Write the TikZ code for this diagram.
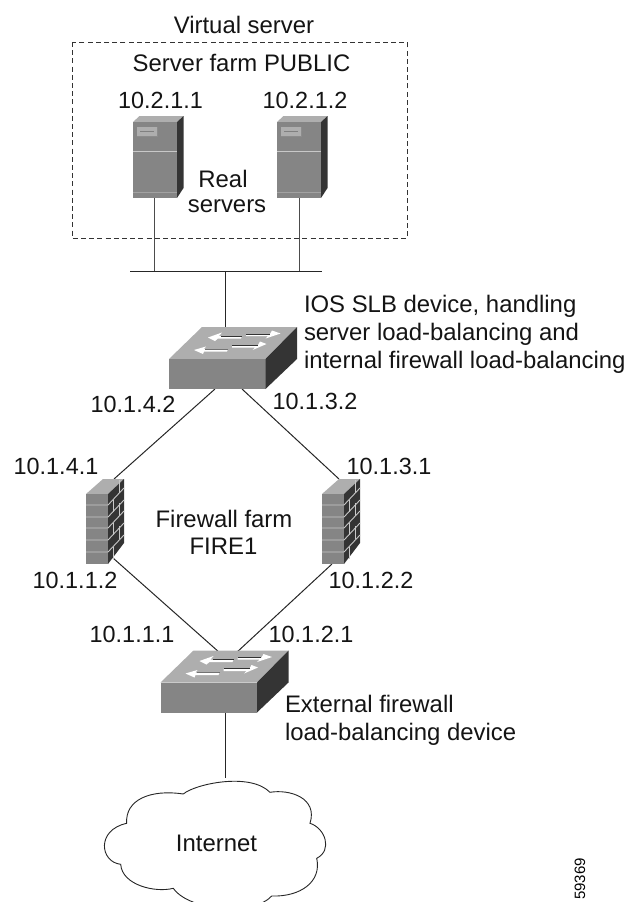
\documentclass[tikz,border=0pt]{standalone}
\usepackage{fontspec}
\setmainfont{Liberation Sans}
\definecolor{dtop}{HTML}{AEAEAE}
\definecolor{dfront}{HTML}{858585}
\definecolor{dside}{HTML}{343434}
\definecolor{dlight}{HTML}{C8C8C8}
\tikzset{
  lab/.style={inner sep=0pt,outer sep=0pt,anchor=base,text=black!92,font=\fontsize{23.4}{27}\selectfont},
  wlab/.style={lab,font=\fontsize{23.9}{27}\selectfont},
  labw/.style={wlab,anchor=base west},
  wire/.style={draw=black!85,line width=1pt},
  devtop/.style={fill=dtop,draw=none},
  devfront/.style={fill=dfront,draw=none},
  devside/.style={fill=dside,draw=none},
  mortar/.style={draw=dlight,line width=0.9pt},
  arrowhead/.style={fill=white,draw=none},
  arrowedge/.style={draw=black!80,line width=0.8pt}
}
\newcommand{\serverdev}[1]{%
  \begin{scope}[shift={(#1,0)}]
    \fill[devtop] (133,122) -- (139.5,116) -- (183.5,116) -- (177,122) -- cycle;
    \fill[devside] (177,122) -- (183.5,116) -- (183.5,188) -- (177,198) -- cycle;
    \fill[devfront] (133,122) rectangle (177,198);
    \fill[fill=dtop] (137,127) rectangle (157,136);
    \draw[draw=black!45,line width=0.5pt] (137,136) -- (157,136) -- (157,127);
    \draw[draw=black!50,line width=0.5pt] (140,131.5) -- (154,131.5);
    \draw[mortar,line width=0.8pt] (133,151) -- (177,151);
    \draw[mortar,draw=black!25!dfront!60!white,line width=0.8pt] (133,192) -- (177,192);
  \end{scope}}
\newcommand{\firewalldev}[1]{%
  \begin{scope}[shift={(#1,0)}]
    \fill[devtop] (86,494) -- (103,479) -- (124,479) -- (108,494) -- cycle;
    \fill[devfront] (86,494) rectangle (108,564);
    \fill[devside] (108,494) -- (124,479) -- (124,543) -- (108,564) -- cycle;
    \foreach \yy in {505,517,528,540,552} {
      \draw[mortar] (86,\yy) -- (108,\yy) -- (124,\yy-17);
    }
    \foreach \yy in {494,517,540} {
      \draw[mortar] (119,\yy-14) -- (119,\yy-1);
    }
    \foreach \yy in {505,528,552} {
      \draw[mortar] (113.5,\yy-5) -- (113.5,\yy+7);
    }
  \end{scope}}
\newcommand{\switchdev}[2]{%
  \begin{scope}[shift={(#1,#2)}]
    \fill[devtop] (169,359) -- (202,327) -- (297,327) -- (265.5,359) -- cycle;
    \fill[devfront] (169,359) rectangle (265.5,389);
    \fill[devside] (265.5,359) -- (297,327) -- (297,359) -- (265.5,389) -- cycle;
    % arrow, top left
    \fill[arrowhead] (208,337.5) -- (222,332.5) -- (219,336) -- (242,336) -- (241,338.5) -- (218,338.5) -- (215,341) -- cycle;
    \draw[arrowedge] (221,336) -- (242,336);
    % arrow, top right
    \fill[arrowhead] (246,334) -- (270,334) -- (272,330.5) -- (280.5,333.5) -- (265.5,338.5) -- (268,336) -- (246,336) -- cycle;
    \draw[arrowedge] (246,334) -- (269.5,334);
    % arrow, lower left
    \fill[arrowhead] (194,350) -- (206,346.5) -- (204,349) -- (228,349) -- (227,351.5) -- (204,351.5) -- (203,354) -- cycle;
    \draw[arrowedge,draw=black!55] (205,349) -- (228,349);
    % arrow, lower right
    \fill[arrowhead] (232,345) -- (258,345) -- (260,341.5) -- (266.5,344) -- (252.5,350) -- (255,347.5) -- (232,347.5) -- cycle;
    \draw[arrowedge] (232,345) -- (258,345);
  \end{scope}}
\begin{document}
\begin{tikzpicture}[x=1pt,y=-1pt]
\useasboundingbox (0,0) rectangle (628,902);
\clip (0,0) rectangle (628,902);

% connection points
\coordinate (srvA) at (154,198);
\coordinate (srvB) at (299,198);
\coordinate (busA) at (154,271);
\coordinate (busB) at (299,271);
\coordinate (busL) at (130,271);
\coordinate (busR) at (322,271);
\coordinate (busM) at (225,271);
\coordinate (swOneTop) at (225,337);
\coordinate (swOneL) at (215,389);
\coordinate (swOneR) at (242,389);
\coordinate (fwAtop) at (114,479);
\coordinate (fwBtop) at (339,479);
\coordinate (fwAbot) at (113,558);
\coordinate (fwBbot) at (332,564);
\coordinate (swTwoL) at (220,653);
\coordinate (swTwoR) at (236,653);
\coordinate (swTwoBot) at (225,712);
\coordinate (cloudTop) at (225,778);

% virtual server frame
\draw[draw=black!80,line width=0.8pt,dash pattern=on 5pt off 3.2pt] (72,42) rectangle (407,238);

% connectors
\draw[wire,draw=black!70] (srvA) -- (busA);
\draw[wire,draw=black!70] (srvB) -- (busB);
\draw[wire] (busL) -- (busR);
\draw[wire] (busM) -- (swOneTop);
\draw[wire] (swOneL) -- (fwAtop);
\draw[wire] (swOneR) -- (fwBtop);
\draw[wire] (fwAbot) -- (swTwoL);
\draw[wire] (fwBbot) -- (swTwoR);
\draw[wire] (swTwoBot) -- (cloudTop);

% devices
\serverdev{0}
\serverdev{144}
\switchdev{0}{0}
\switchdev{-8.5}{323.5}
\firewalldev{0}
\firewalldev{236}

% cloud
\draw[draw=black!85,line width=0.9pt,fill=white]
  (183.3,794) .. controls (195,784) and (250,772) .. (270,792.3)
  .. controls (290,789) and (318,798) .. (310,823.3)
  .. controls (325,828) and (333,850) .. (316.7,858.3)
  .. controls (322,882) and (300,897) .. (271.7,896)
  .. controls (255,915) and (190,912) .. (173.3,888.3)
  .. controls (155,893) and (122,885) .. (120.7,864.3)
  .. controls (100,862) and (96,830) .. (126.7,823.3)
  .. controls (125,800) and (150,789) .. (183.3,794) -- cycle;

% labels
\node[wlab] (tVirtual) at (244,33) {Virtual server};
\node[wlab] (tFarm) at (241.5,71) {Server farm PUBLIC};
\node[lab] (tIpA) at (160.5,108) {10.2.1.1};
\node[lab] (tIpB) at (305,108) {10.2.1.2};
\node[wlab] (tReal) at (223,187) {Real};
\node[wlab] (tServers) at (227,212) {servers};
\node[labw] (tSlbA) at (304,312) {IOS SLB device, handling};
\node[labw] (tSlbB) at (304,340) {server load-balancing and};
\node[labw] (tSlbC) at (304,368) {internal firewall load-balancing};
\node[lab] (t142) at (133,412) {10.1.4.2};
\node[lab] (t132) at (315,409) {10.1.3.2};
\node[lab] (t141) at (56,474) {10.1.4.1};
\node[lab] (t131) at (389,474) {10.1.3.1};
\node[wlab] (tFireA) at (224,527) {Firewall farm};
\node[wlab] (tFireB) at (223.5,554) {FIRE1};
\node[lab] (t112) at (75,588) {10.1.1.2};
\node[lab] (t122) at (371,588) {10.1.2.2};
\node[lab] (t111) at (132,642) {10.1.1.1};
\node[lab] (t121) at (311,642) {10.1.2.1};
\node[labw] (tExtA) at (285,712) {External firewall};
\node[labw] (tExtB) at (285,740) {load-balancing device};
\node[wlab] (tNet) at (216.5,851) {Internet};
\node[inner sep=0pt,anchor=base west,rotate=90,font=\fontsize{15}{18}\selectfont] (tId) at (585,900) {59369};
\end{tikzpicture}
\end{document}
